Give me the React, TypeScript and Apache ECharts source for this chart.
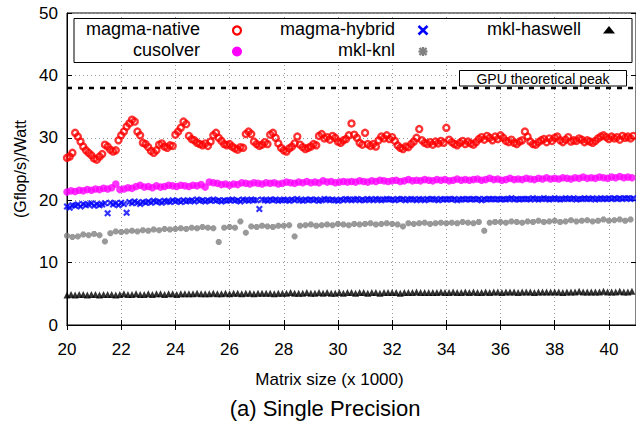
import React, { useEffect, useRef } from "react";
import * as echarts from "echarts";

// Matrix sizes (x 1000): regular grid of measured sizes
const sizeStart = 20;
const fineStep = 0.1;
const denseStep = 0.15;
const knlStep = 0.2;
const xTickLabels = ["20", "22", "24", "26", "28", "30", "32", "34", "36", "38", "40"];
const yTickLabels = ["0", "10", "20", "30", "40", "50"];
const gpuPeak = 38;

// step 0.1, from 20.0 to 40.9
const magmaNative = [
  26.8, 27.0, 27.6, 30.8, 30.2, 29.4, 28.6, 28.0, 27.6, 27.2,
  26.7, 26.5, 27.0, 27.4, 28.9, 28.6, 28.1, 27.8, 28.0, 29.6,
  30.4, 31.0, 31.8, 32.3, 32.9, 32.6, 31.0, 30.4, 29.2, 29.0,
  28.5, 27.9, 27.6, 28.0, 28.9, 29.1, 28.6, 28.4, 28.8, 28.7,
  30.5, 31.0, 31.6, 32.6, 32.2, 30.3, 29.8, 29.6, 29.2, 29.0,
  28.8, 29.1, 28.7, 29.4, 30.4, 30.8, 30.0, 29.5, 29.0, 28.8,
  29.0, 28.6, 28.3, 28.1, 28.5, 28.4, 30.6, 31.0, 30.6, 29.4,
  29.0, 28.7, 28.9, 29.3, 29.0, 30.5, 30.8, 30.0, 29.1, 28.4,
  28.0, 27.8, 28.3, 28.6, 29.1, 30.2, 28.9, 28.5, 28.2, 28.4,
  28.6, 29.0, 28.8, 30.3, 30.6, 29.9, 30.1, 29.7, 30.3, 30.0,
  29.4, 29.2, 29.6, 29.8, 30.4, 32.3, 30.5, 30.0, 29.2, 28.9,
  30.8, 29.0, 28.7, 29.0, 28.6, 29.6, 30.2, 29.9, 30.4, 29.8,
  30.1, 29.5, 28.8, 28.4, 28.2, 28.6, 28.5, 29.0, 29.4, 30.0,
  31.4, 29.6, 29.2, 29.0, 29.3, 28.9, 29.4, 29.1, 29.5, 29.2,
  31.6, 29.7, 29.3, 29.0, 28.8, 29.2, 29.5, 29.0, 29.4, 29.1,
  28.9, 29.3, 29.8, 30.1, 29.7, 30.3, 30.0, 29.6, 30.2, 29.8,
  30.4, 30.0, 29.5, 29.3, 29.7, 29.2, 29.0, 29.4, 29.6, 31.0,
  30.2, 29.4, 29.0, 28.9, 29.3, 29.6, 29.8, 29.3, 29.9, 29.5,
  30.0, 30.2, 29.6, 29.3, 29.7, 30.1, 29.4, 29.6, 29.5, 29.9,
  29.7, 29.3, 29.6, 29.4, 29.2, 29.5, 29.9, 30.2, 30.4, 30.1,
  29.8, 30.2, 29.9, 30.1, 29.7, 30.3, 30.0, 30.2, 29.9, 30.3,
];

// step 0.1, from 20.0 to 40.9
const magmaHybrid = [
  19.0, 18.8, 19.2, 19.1, 19.3, 19.0, 19.4, 19.2, 19.3, 19.5,
  19.1, 19.4, 19.2, 19.3, 19.5, 17.9, 19.6, 19.3, 19.5, 19.2,
  19.6, 19.4, 18.0, 19.7, 19.5, 19.8, 19.6, 19.4, 19.7, 19.6,
  19.8, 19.6, 19.9, 19.7, 19.8, 19.6, 19.9, 19.8, 19.7, 20.0,
  19.8, 19.9, 19.7, 20.0, 19.8, 19.9, 20.0, 19.8, 20.1, 19.9,
  20.0, 19.8, 20.0, 19.9, 20.1, 19.9, 20.0, 19.8, 20.0, 19.9,
  20.0, 20.1, 19.9, 20.0, 19.8, 20.1, 20.0, 19.9, 20.1, 20.0,
  20.0, 18.6, 20.1, 20.0, 19.9, 20.1, 20.0, 20.1, 19.9, 20.0,
  20.1, 20.0, 19.9, 20.1, 20.0, 20.2, 20.0, 19.9, 20.1, 20.0,
  20.1, 20.0, 20.1, 19.9, 20.0, 20.2, 20.1, 20.0, 20.1, 20.0,
  19.9, 20.1, 20.0, 20.2, 20.1, 20.0, 20.1, 20.2, 20.0, 20.1,
  20.0, 20.2, 20.1, 20.0, 20.2, 20.1, 20.0, 20.1, 20.2, 20.1,
  20.1, 20.0, 20.2, 20.1, 20.2, 20.0, 20.1, 20.2, 20.1, 20.0,
  20.2, 20.1, 20.0, 20.2, 20.1, 20.2, 20.1, 20.0, 20.2, 20.1,
  20.1, 20.2, 20.1, 20.2, 20.0, 20.1, 20.2, 20.1, 20.2, 20.1,
  20.2, 20.1, 20.2, 20.0, 20.2, 20.1, 20.2, 20.2, 20.1, 20.2,
  20.1, 20.2, 20.1, 20.2, 20.3, 20.1, 20.2, 20.1, 20.2, 20.2,
  20.2, 20.1, 20.3, 20.2, 20.1, 20.2, 20.3, 20.2, 20.1, 20.2,
  20.3, 20.2, 20.1, 20.2, 20.3, 20.2, 20.2, 20.3, 20.1, 20.2,
  20.2, 20.3, 20.2, 20.2, 20.3, 20.1, 20.2, 20.3, 20.2, 20.2,
  20.3, 20.2, 20.3, 20.2, 20.3, 20.2, 20.3, 20.3, 20.2, 20.3,
];

// step 0.15, from 20.0 to 40.85
const cusolver = [
  21.3, 21.5, 21.4, 21.6, 21.5, 21.7, 21.6, 21.8, 21.7, 21.9,
  21.8, 22.0, 22.6, 21.7, 21.8, 22.0, 21.9, 22.2, 22.4, 22.1,
  22.2, 22.0, 22.3, 22.1, 22.2, 22.4, 22.3, 22.2, 22.4, 22.3,
  22.2, 22.4, 22.3, 22.5, 22.1, 22.9, 22.8, 22.7, 22.5, 22.6,
  22.4, 22.6, 22.5, 22.8, 22.7, 22.6, 22.8, 22.7, 22.6, 22.8,
  22.7, 22.8, 22.6, 22.7, 22.9, 22.8, 22.7, 22.9, 22.8, 23.0,
  22.8, 22.9, 22.8, 23.1, 22.9, 23.0, 22.8, 22.9, 23.0, 22.9,
  23.0, 22.9, 23.1, 23.0, 22.9, 23.1, 23.0, 23.2, 23.1, 23.0,
  23.1, 23.2, 23.0, 23.1, 23.3, 23.1, 23.2, 23.1, 23.3, 23.2,
  23.1, 23.3, 23.2, 23.3, 23.1, 23.2, 23.4, 23.2, 23.3, 23.2,
  23.3, 23.4, 23.2, 23.3, 23.5, 23.3, 23.4, 23.2, 23.3, 23.5,
  23.3, 23.4, 23.3, 23.5, 23.4, 23.3, 23.5, 23.4, 23.6, 23.4,
  23.5, 23.4, 23.6, 23.5, 23.4, 23.6, 23.5, 23.7, 23.5, 23.6,
  23.5, 23.7, 23.6, 23.5, 23.7, 23.6, 23.8, 23.6, 23.7, 23.6,
];

// step 0.2, from 20.0 to 40.8
const mklKnl = [
  14.3, 14.1, 14.2, 14.5, 14.4, 14.6, 14.4, 13.4, 14.7, 15.0,
  14.9, 15.0, 15.1, 15.0, 15.2, 15.1, 15.3, 15.2, 15.4, 15.3,
  15.4, 15.5, 15.4, 15.6, 15.5, 15.7, 15.6, 15.5, 13.3, 15.6,
  15.7, 15.6, 16.6, 14.8, 15.8, 15.7, 15.9, 15.8, 15.7, 15.9,
  15.9, 16.0, 14.2, 15.9, 16.0, 16.1, 15.9, 16.0, 16.1, 16.0,
  16.2, 16.1, 16.0, 16.2, 16.1, 16.2, 16.3, 16.1, 16.2, 16.3,
  16.2, 16.1, 15.8, 16.3, 16.2, 16.3, 16.4, 16.2, 16.3, 16.4,
  16.3, 16.4, 16.3, 16.5, 16.4, 16.3, 16.5, 15.1, 16.4, 16.5,
  16.5, 16.4, 16.6, 16.5, 16.4, 16.6, 16.5, 16.7, 16.5, 16.6,
  16.7, 16.5, 16.6, 16.8, 16.6, 16.7, 16.8, 16.6, 16.7, 16.9,
  16.7, 16.8, 16.9, 16.7, 16.9,
];

// step 0.15, from 20.0 to 40.85
const mklHaswell = [
  4.8, 4.9, 4.8, 4.9, 4.9, 4.8, 4.9, 4.9, 4.8, 4.9,
  4.9, 4.9, 4.8, 4.9, 5.0, 4.9, 4.9, 5.0, 4.9, 4.9,
  5.0, 4.9, 5.0, 5.0, 4.9, 5.0, 5.0, 4.9, 5.0, 5.0,
  5.0, 5.0, 5.1, 5.0, 5.0, 5.0, 5.1, 5.0, 5.0, 5.1,
  5.0, 5.1, 5.1, 5.0, 5.1, 5.1, 5.0, 5.1, 5.1, 5.1,
  5.1, 5.0, 5.1, 5.1, 5.1, 5.2, 5.1, 5.1, 5.1, 5.2,
  5.1, 5.1, 5.2, 5.1, 5.2, 5.1, 5.1, 5.2, 5.1, 5.2,
  5.2, 5.1, 5.2, 5.2, 5.1, 5.2, 5.2, 5.1, 5.2, 5.2,
  5.2, 5.2, 5.1, 5.2, 5.2, 5.2, 5.3, 5.2, 5.2, 5.2,
  5.2, 5.2, 5.3, 5.2, 5.2, 5.3, 5.2, 5.2, 5.3, 5.2,
  5.3, 5.2, 5.2, 5.3, 5.2, 5.3, 5.3, 5.2, 5.3, 5.3,
  5.3, 5.2, 5.3, 5.3, 5.3, 5.2, 5.3, 5.3, 5.3, 5.3,
  5.3, 5.3, 5.2, 5.3, 5.3, 5.3, 5.4, 5.3, 5.3, 5.3,
  5.3, 5.3, 5.4, 5.3, 5.3, 5.3, 5.4, 5.3, 5.3, 5.4,
];

const FONT = '"Liberation Sans", Arial, Helvetica, sans-serif';

function toPairs(vals: number[], step: number) {
  return vals.map((v, i) => [Number((sizeStart + i * step).toFixed(2)), v]);
}

const CROSS = "path://M0,0L10,10M10,0L0,10";
const STAR = "path://M0,5L10,5M5,0L5,10M1.5,1.5L8.5,8.5M8.5,1.5L1.5,8.5";

export default function App() {
  const ref = useRef<HTMLDivElement>(null);

  useEffect(() => {
    if (!ref.current) return;
    const chart = echarts.init(ref.current, null, { renderer: "svg" });

    const gridLine = { show: true, lineStyle: { color: "#9a9a9a", width: 1, type: [1, 3] as any } };
    const axisLineBlack = { show: true, lineStyle: { color: "#000", width: 1 } };
    const tickIn = { show: true, inside: true, length: 5, lineStyle: { color: "#000", width: 1 } };

    const legendText = (text: string, x: number, y: number) => ({
      type: "text",
      z: 101,
      style: {
        text,
        x,
        y,
        fill: "#000",
        fontSize: 18,
        fontFamily: FONT,
        align: "right",
        verticalAlign: "middle",
      },
    });
    const line = (x1: number, y1: number, x2: number, y2: number, stroke: string, w: number) => ({
      type: "line",
      z: 101,
      shape: { x1, y1, x2, y2 },
      style: { stroke, lineWidth: w },
    });

    const option: any = {
      animation: false,
      backgroundColor: "#fff",
      textStyle: { fontFamily: FONT },
      grid: {
        left: 67,
        top: 13,
        width: 572,
        height: 312,
        show: true,
        borderColor: "#000",
        borderWidth: 1,
        backgroundColor: "transparent",
      },
      xAxis: [
        {
          type: "value",
          min: 20,
          max: 41,
          interval: 2,
          position: "bottom",
          axisLine: axisLineBlack,
          axisTick: tickIn,
          splitLine: gridLine,
          axisLabel: {
            show: true,
            showMaxLabel: false,
            margin: 16,
            color: "#000",
            fontSize: 17,
            fontFamily: FONT,
            formatter: (v: number) => (xTickLabels.includes(String(v)) ? String(v) : ""),
          },
          name: "Matrix size (x 1000)",
          nameLocation: "middle",
          nameGap: 46,
          nameTextStyle: { color: "#000", fontSize: 17, fontFamily: FONT, padding: [0, 44, 0, 0] },
        },
        {
          type: "value",
          min: 20,
          max: 41,
          interval: 2,
          position: "top",
          axisLine: axisLineBlack,
          axisTick: tickIn,
          splitLine: { show: false },
          axisLabel: { show: false },
        },
      ],
      yAxis: [
        {
          type: "value",
          min: 0,
          max: 50,
          interval: 10,
          position: "left",
          axisLine: axisLineBlack,
          axisTick: tickIn,
          splitLine: gridLine,
          axisLabel: {
            margin: 9,
            color: "#000",
            fontSize: 17,
            fontFamily: FONT,
            formatter: (v: number) => (yTickLabels.includes(String(v)) ? String(v) : ""),
          },
          name: "(Gflop/s)/Watt",
          nameLocation: "middle",
          nameGap: 37,
          nameTextStyle: { color: "#000", fontSize: 16, fontFamily: FONT },
        },
        {
          type: "value",
          min: 0,
          max: 50,
          interval: 10,
          position: "right",
          axisLine: axisLineBlack,
          axisTick: tickIn,
          splitLine: { show: false },
          axisLabel: { show: false },
        },
      ],
      series: [
        {
          name: "GPU theoretical peak",
          type: "line",
          xAxisIndex: 0,
          yAxisIndex: 0,
          data: [
            [20, gpuPeak],
            [41, gpuPeak],
          ],
          symbol: "none",
          lineStyle: { color: "#000", width: 2.5, type: [5, 6] },
          z: 3,
        },
        {
          name: "magma-native",
          type: "scatter",
          data: toPairs(magmaNative, fineStep),
          symbol: "circle",
          symbolSize: 6,
          itemStyle: { color: "transparent", borderColor: "#ff0000", borderWidth: 2.4 },
          z: 4,
        },
        {
          name: "magma-hybrid",
          type: "scatter",
          data: toPairs(magmaHybrid, fineStep),
          symbol: CROSS,
          symbolSize: 5.5,
          itemStyle: { color: "transparent", borderColor: "#0000ff", borderWidth: 2.2 },
          z: 4,
        },
        {
          name: "mkl-haswell",
          type: "scatter",
          data: toPairs(mklHaswell, denseStep),
          symbol: "triangle",
          symbolSize: 7,
          itemStyle: { color: "#000" },
          z: 4,
        },
        {
          name: "cusolver",
          type: "scatter",
          data: toPairs(cusolver, denseStep),
          symbol: "circle",
          symbolSize: 7.5,
          itemStyle: { color: "#ff00ff" },
          z: 4,
        },
        {
          name: "mkl-knl",
          type: "scatter",
          data: toPairs(mklKnl, knlStep),
          symbol: STAR,
          symbolSize: 6,
          itemStyle: { color: "transparent", borderColor: "#808080", borderWidth: 2.4 },
          z: 4,
        },
      ],
      graphic: [
        // key box
        {
          type: "rect",
          z: 100,
          shape: { x: 74, y: 18.5, width: 558, height: 44 },
          style: { fill: "#fff", stroke: "#000", lineWidth: 1 },
        },
        legendText("magma-native", 200, 29),
        legendText("cusolver", 200, 50),
        legendText("magma-hybrid", 395, 29),
        legendText("mkl-knl", 395, 50),
        legendText("mkl-haswell", 581, 29),
        {
          type: "circle",
          z: 101,
          shape: { cx: 237, cy: 30.5, r: 4 },
          style: { fill: "none", stroke: "#ff0000", lineWidth: 2.2 },
        },
        {
          type: "circle",
          z: 101,
          shape: { cx: 237, cy: 51.5, r: 5 },
          style: { fill: "#ff00ff" },
        },
        line(418.5, 26, 427.5, 34.5, "#0000ff", 2.6),
        line(427.5, 26, 418.5, 34.5, "#0000ff", 2.6),
        line(418.5, 51.5, 427.5, 51.5, "#808080", 2.4),
        line(423, 47, 423, 56, "#808080", 2.4),
        line(419.5, 48, 426.5, 55, "#808080", 2.4),
        line(426.5, 48, 419.5, 55, "#808080", 2.4),
        {
          type: "polygon",
          z: 101,
          shape: {
            points: [
              [609, 26],
              [615, 33.5],
              [603, 33.5],
            ],
          },
          style: { fill: "#000" },
        },
        // peak annotation
        {
          type: "rect",
          z: 100,
          shape: { x: 459.5, y: 70.5, width: 167, height: 15.5 },
          style: { fill: "#fff", stroke: "#000", lineWidth: 1 },
        },
        {
          type: "text",
          z: 101,
          style: {
            text: "GPU theoretical peak",
            x: 543,
            y: 78.5,
            fill: "#000",
            fontSize: 14,
            fontFamily: FONT,
            align: "center",
            verticalAlign: "middle",
          },
        },
        // caption
        {
          type: "text",
          z: 101,
          style: {
            text: "(a) Single Precision",
            x: 325,
            y: 408,
            fill: "#000",
            fontSize: 22,
            fontFamily: FONT,
            align: "center",
            verticalAlign: "middle",
          },
        },
      ],
    };

    chart.setOption(option);
    return () => chart.dispose();
  }, []);

  return (
    <div
      ref={ref}
      style={{ position: "fixed", left: 0, top: 0, width: 636, height: 424, background: "#fff" }}
    />
  );
}
